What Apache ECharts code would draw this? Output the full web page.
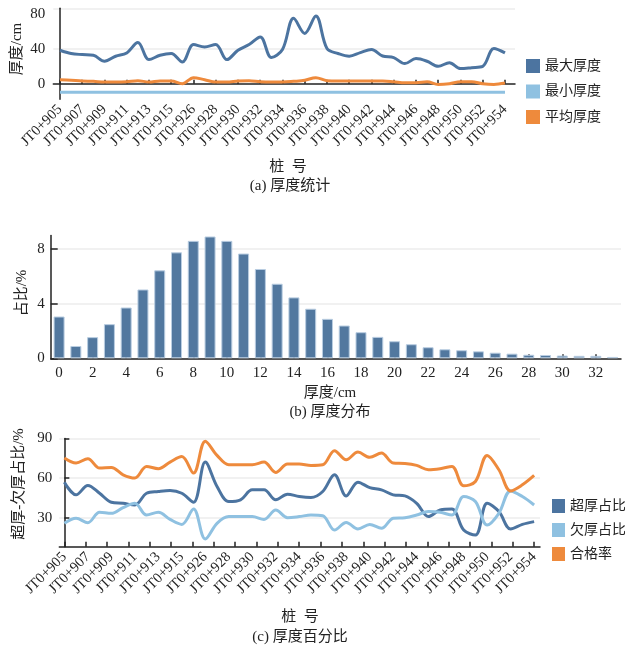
<!DOCTYPE html>
<html>
<head>
<meta charset="utf-8">
<script src="https://cdn.jsdelivr.net/npm/echarts@6/dist/echarts.min.js"></script>
<style>
  html, body { margin: 0; padding: 0; background: #fff; }
  #chart { width: 625px; height: 650px; }
</style>
</head>
<body>
<div id="chart"></div>
<script>
// Station numbers along the road section
const stations = [
  'JT0+905','JT0+906','JT0+907','JT0+908','JT0+909','JT0+910','JT0+911','JT0+912',
  'JT0+913','JT0+914','JT0+915','JT0+916','JT0+926','JT0+927','JT0+928','JT0+929',
  'JT0+930','JT0+931','JT0+932','JT0+933','JT0+934','JT0+935','JT0+936','JT0+937',
  'JT0+938','JT0+939','JT0+940','JT0+941','JT0+942','JT0+943','JT0+944','JT0+945',
  'JT0+946','JT0+947','JT0+948','JT0+949','JT0+950','JT0+951','JT0+952','JT0+953','JT0+954'
];

// (a) thickness statistics, cm
const maxThk = [38.6,34.8,33.6,32.8,25.9,31.7,35.5,47.5,27.8,32.8,
                34.8,25.0,45.2,42.4,45.2,27.8,38.6,45.2,54.0,30.1,
                39.4,75.4,58.0,78.0,40.6,34.8,31.7,35.9,39.4,32.0,
                30.1,23.2,29.0,25.9,20.0,24.3,17.4,18.5,20.0,40.6,35.5];
const minThk = [-10,-10,-10,-10,-10,-10,-10,-10,-10,-10,
                -10,-10,-10,-10,-10,-10,-10,-10,-10,-10,
                -10,-10,-10,-10,-10,-10,-10,-10,-10,-10,
                -10,-10,-10,-10,-10,-10,-10,-10,-10,-10,-10];
const avgThk = [4.6,3.9,3.1,2.7,1.9,1.9,2.3,3.5,1.9,3.1,
                3.1,0.0,7.0,4.6,1.9,1.9,3.1,3.5,2.3,1.9,
                1.9,2.7,3.9,7.0,3.5,3.1,3.1,3.1,3.1,3.1,
                2.3,1.2,1.2,2.3,-0.8,0.0,2.3,2.3,0.0,-0.8,0.8];

// (b) thickness distribution, %
const distCats = ['0','1','2','3','4','5','6','7','8','9','10','11','12','13','14','15','16',
                  '17','18','19','20','21','22','23','24','25','26','27','28','29','30','31','32','33'];
const distPct = [3.06,0.90,1.55,2.50,3.72,5.04,6.44,7.76,8.60,8.92,8.60,7.67,6.54,5.46,4.46,3.63,2.89,
                 2.40,1.91,1.57,1.25,1.03,0.81,0.66,0.59,0.51,0.41,0.34,0.26,0.24,0.20,0.18,0.18,0.10];

// (c) thickness percentages, %
const overPct = [56.9,47.3,54.4,48.5,41.7,40.9,39.6,48.5,49.8,50.6,
                 48.5,41.7,72.1,53.6,42.2,43.5,51.1,51.1,43.5,47.8,
                 46.0,45.2,49.8,62.5,46.5,56.9,52.8,51.1,47.3,46.5,
                 40.9,30.8,35.8,36.6,20.6,16.8,40.9,34.6,21.4,24.9,27.0];
const underPct = [25.7,29.5,26.2,34.1,33.3,37.6,40.9,32.0,34.1,28.7,
                  24.9,36.6,13.8,25.7,30.8,30.8,30.8,28.7,35.8,30.0,
                  30.8,32.0,31.5,20.6,26.4,21.4,24.9,21.9,29.5,30.0,
                  32.0,34.6,34.1,32.0,46.0,42.2,24.4,33.3,50.3,46.0,39.6];
const passPct = [75.2,71.4,74.7,67.6,68.1,62.5,60.0,68.8,67.1,72.1,
                 76.4,63.8,87.9,77.2,70.1,70.1,70.1,72.1,64.3,70.6,
                 70.6,69.6,70.1,80.8,73.9,79.7,75.7,79.0,71.4,71.1,
                 69.6,66.3,67.1,68.8,54.1,57.4,77.2,66.3,50.3,54.9,62.0];

// tick labels
const thkTicks = [0, 40, 80];
const distTicks = [0, 4, 8];
const pctTicks = [30, 60, 90];

const FONT = "'Liberation Serif', 'Noto Sans CJK SC', serif";
const INK = '#222';
const DARK = '#4c74a0';
const LIGHT = '#8fc1e1';
const ORANGE = '#ee8a3c';
const GRIDC = '#ececec';

// every other station gets a label
const labelIdx = stations.map((_, i) => i).filter(i => i % 2 === 0);
// the percentage panel has 23 evenly spread ticks over the station range
const pctTickPos = [];
for (let k = 0; k <= 22; k++) pctTickPos.push(k * (stations.length - 1) / 22);

const pairs = arr => arr.map((v, i) => [i, v]);

const axisLine = { show: true, lineStyle: { color: INK, width: 1.5 } };
const numLabel = { color: INK, fontFamily: FONT, fontSize: 15 };
const stationLabel = { customValues: labelIdx, formatter: v => stations[Math.round(v)], rotate: 45,
                       margin: 8, fontSize: 14.5, color: INK, fontFamily: FONT };

function lineSeries(name, data, color, xi) {
  return {
    name, type: 'line', xAxisIndex: xi, yAxisIndex: xi,
    data: pairs(data), smooth: 0.35, showSymbol: false, symbol: 'none',
    lineStyle: { color, width: 3 }, itemStyle: { color },
    emphasis: { disabled: true }, z: 3
  };
}

const chart = echarts.init(document.getElementById('chart'), null, { renderer: 'canvas' });

chart.setOption({
  animation: false,
  backgroundColor: '#fff',
  textStyle: { fontFamily: FONT, color: INK },
  grid: [
    { left: 53.3, right: 110, top: 8.3, height: 91 },
    { left: 50.7, right: 4, top: 235.4, height: 122.9 },
    { left: 59.3, right: 85, top: 438.5, height: 108.2 }
  ],
  legend: [
    {
      data: ['最大厚度', '最小厚度', '平均厚度'], orient: 'vertical',
      left: 521, top: 54, itemWidth: 14, itemHeight: 14, itemGap: 11.5, icon: 'rect',
      textStyle: { fontFamily: FONT, fontSize: 14, color: INK }
    },
    {
      data: ['超厚占比', '欠厚占比', '合格率'], orient: 'vertical',
      left: 547, top: 494, itemWidth: 13, itemHeight: 14, itemGap: 10, icon: 'rect',
      textStyle: { fontFamily: FONT, fontSize: 14, color: INK }
    }
  ],
  xAxis: [
    {
      gridIndex: 0, type: 'value', min: -0.6, max: 40.9,
      axisLine,
      axisTick: { show: true, inside: true, length: 4, customValues: labelIdx, lineStyle: { color: INK, width: 1.5 } },
      axisLabel: stationLabel,
      splitLine: { show: false }
    },
    {
      gridIndex: 1, type: 'category', data: distCats, boundaryGap: true,
      axisLine,
      axisTick: { show: true, inside: true, length: 4, alignWithLabel: true, interval: 1, lineStyle: { color: INK, width: 1.5 } },
      axisLabel: { interval: 1, margin: 7, ...numLabel },
      splitLine: { show: false }
    },
    {
      gridIndex: 2, type: 'value', min: -0.43, max: 40.5,
      axisLine,
      axisTick: { show: true, inside: true, length: 5, customValues: pctTickPos, lineStyle: { color: INK, width: 1.5 } },
      axisLabel: stationLabel,
      splitLine: { show: false }
    }
  ],
  yAxis: [
    {
      gridIndex: 0, type: 'value', min: -18, max: 87,
      axisLine,
      axisTick: { show: false, customValues: [40, 87] },
      axisLabel: { customValues: thkTicks, margin: 8, ...numLabel },
      splitLine: { show: true, lineStyle: { color: GRIDC, width: 1.5 } }
    },
    {
      gridIndex: 1, type: 'value', min: 0, max: 9, interval: 4,
      axisLine,
      axisTick: { show: true, inside: true, length: 7, customValues: distTicks, lineStyle: { color: INK, width: 1.5 } },
      axisLabel: { customValues: distTicks, margin: 6, ...numLabel },
      splitLine: { show: true, lineStyle: { color: GRIDC, width: 1.5 } }
    },
    {
      gridIndex: 2, type: 'value', min: 8, max: 90,
      axisLine,
      axisTick: { show: true, inside: true, length: 5, customValues: pctTicks, lineStyle: { color: INK, width: 1.5 } },
      axisLabel: { customValues: pctTicks, margin: 7, ...numLabel },
      splitLine: { show: true, lineStyle: { color: GRIDC, width: 1.5 } }
    }
  ],
  series: [
    lineSeries('最大厚度', maxThk, DARK, 0),
    lineSeries('最小厚度', minThk, LIGHT, 0),
    lineSeries('平均厚度', avgThk, ORANGE, 0),
    {
      type: 'bar', xAxisIndex: 1, yAxisIndex: 1, data: distPct, barWidth: 11,
      itemStyle: { color: '#52789f', borderColor: '#b9cde1', borderWidth: 1 },
      emphasis: { disabled: true }
    },
    lineSeries('超厚占比', overPct, DARK, 2),
    lineSeries('欠厚占比', underPct, LIGHT, 2),
    lineSeries('合格率', passPct, ORANGE, 2)
  ],
  graphic: [
    { type: 'text', x: 17.5, y: 49, rotation: Math.PI / 2,
      style: { text: '厚度/cm', font: '15px ' + FONT, fill: INK, align: 'center', verticalAlign: 'middle' } },
    { type: 'text', x: 288, y: 167,
      style: { text: '桩  号', font: '15px ' + FONT, fill: INK, align: 'center', verticalAlign: 'middle' } },
    { type: 'text', x: 290, y: 186,
      style: { text: '(a) 厚度统计', font: '15px ' + FONT, fill: INK, align: 'center', verticalAlign: 'middle' } },
    { type: 'text', x: 22, y: 293, rotation: Math.PI / 2,
      style: { text: '占比/%', font: '15px ' + FONT, fill: INK, align: 'center', verticalAlign: 'middle' } },
    { type: 'text', x: 330, y: 393,
      style: { text: '厚度/cm', font: '15px ' + FONT, fill: INK, align: 'center', verticalAlign: 'middle' } },
    { type: 'text', x: 330, y: 412,
      style: { text: '(b) 厚度分布', font: '15px ' + FONT, fill: INK, align: 'center', verticalAlign: 'middle' } },
    { type: 'text', x: 19, y: 484, rotation: Math.PI / 2,
      style: { text: '超厚-欠厚占比/%', font: '15px ' + FONT, fill: INK, align: 'center', verticalAlign: 'middle' } },
    { type: 'text', x: 300, y: 617,
      style: { text: '桩  号', font: '15px ' + FONT, fill: INK, align: 'center', verticalAlign: 'middle' } },
    { type: 'text', x: 300, y: 637,
      style: { text: '(c) 厚度百分比', font: '15px ' + FONT, fill: INK, align: 'center', verticalAlign: 'middle' } }
  ]
});
</script>
</body>
</html>
